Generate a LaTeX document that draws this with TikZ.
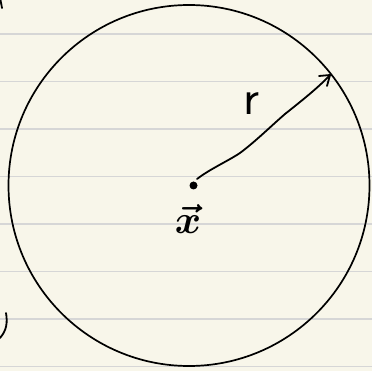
\documentclass[tikz,border=0pt]{standalone}
\usepackage{amsmath}
\definecolor{paper}{HTML}{F8F6EA}
\definecolor{rule}{HTML}{D6D6D6}
\begin{document}
\begin{tikzpicture}[x=1pt,y=-1pt,
  ink/.style={line width=1.8pt,line cap=round,line join=round,black},
  ruling/.style={line width=1.2pt,rule}]
\fill[paper] (0,0) rectangle (372,371);
\useasboundingbox (0,0) rectangle (372,371);
\foreach \yy in {34,81.5,129,176.5,224,271.5,319,366.5}
  \draw[ruling] (0,\yy) -- (372,\yy);
\draw[ink,line width=1.7pt] (189,185.5) circle (180.5);
\fill (193.5,185.5) circle (4) node (x) {};
\coordinate (tip) at (330,75);
\draw[ink] (197,179) .. controls (210,169) and (228,161) .. (240,153)
  .. controls (256,141) and (270,127) .. (285,114)
  .. controls (300,102) and (318,88) .. (tip);
\draw[ink] (319,76) -- (tip) -- (327,86);
\node[font=\sffamily\fontsize{50}{50}\selectfont,inner sep=0pt] (r) at (251,104) {r};
\node[inner sep=0pt] (xl) at (188,219) {\scalebox{4}{$\boldsymbol{\vec{x}}$}};
\draw[ink] (0.5,0) -- (2,8);
\draw[ink] (6,313) .. controls (7.5,322) and (7,330) .. (0,338);
\end{tikzpicture}
\end{document}
